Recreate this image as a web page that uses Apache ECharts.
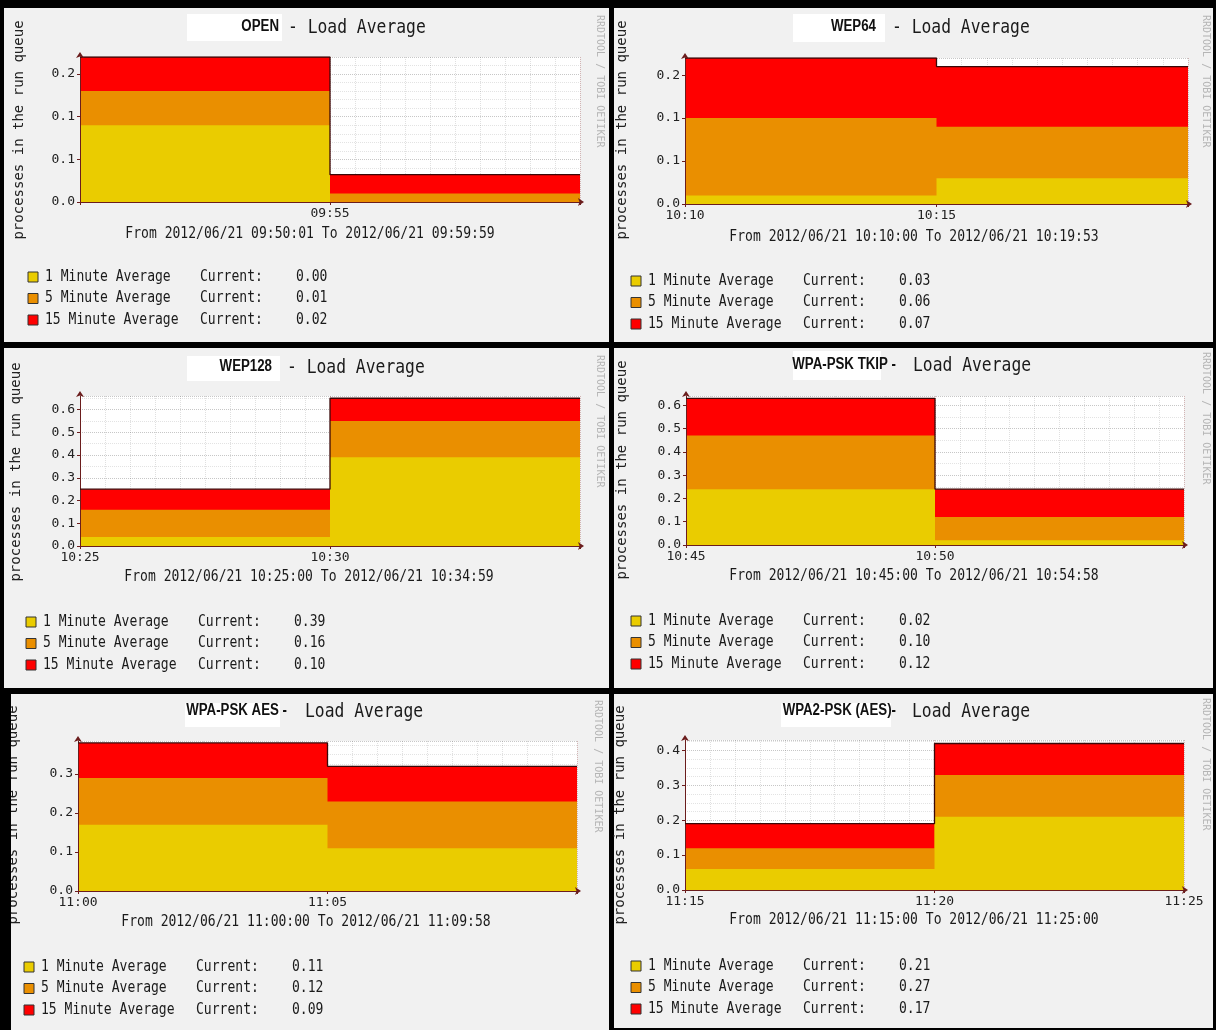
<!DOCTYPE html>
<html>
<head>
<meta charset="utf-8">
<title>Load Average</title>
<script src="https://cdn.jsdelivr.net/npm/echarts@6/dist/echarts.min.js"></script>
<style>
  html, body { margin: 0; padding: 0; background: #000; }
  #main { width: 1216px; height: 1030px; }
</style>
</head>
<body>
<div id="main"></div>
<script>
// sample positions, minutes from the start of each 10 minute window
const minutes = [0, 5, 10];
const seriesNames = ['1 Minute Average', '5 Minute Average', '15 Minute Average'];
const seriesColors = ['#EACC00', '#EA8F00', '#FF0000'];

// OPEN
const openOne = [0.09, 0.00, 0.00];
const openFive = [0.04, 0.01, 0.01];
const openFifteen = [0.04, 0.022, 0.022];
const openCurrent = ['0.00', '0.01', '0.02'];
const openTicks = ['', '09:55', ''];
const openRange = 'From 2012/06/21 09:50:01 To 2012/06/21 09:59:59';

// WEP64
const wep64One = [0.01, 0.03, 0.03];
const wep64Five = [0.09, 0.06, 0.06];
const wep64Fifteen = [0.07, 0.07, 0.07];
const wep64Current = ['0.03', '0.06', '0.07'];
const wep64Ticks = ['10:10', '10:15', ''];
const wep64Range = 'From 2012/06/21 10:10:00 To 2012/06/21 10:19:53';

// WEP128
const wep128One = [0.04, 0.39, 0.39];
const wep128Five = [0.12, 0.16, 0.16];
const wep128Fifteen = [0.09, 0.10, 0.10];
const wep128Current = ['0.39', '0.16', '0.10'];
const wep128Ticks = ['10:25', '10:30', ''];
const wep128Range = 'From 2012/06/21 10:25:00 To 2012/06/21 10:34:59';

// WPA-PSK TKIP
const tkipOne = [0.24, 0.02, 0.02];
const tkipFive = [0.23, 0.10, 0.10];
const tkipFifteen = [0.16, 0.12, 0.12];
const tkipCurrent = ['0.02', '0.10', '0.12'];
const tkipTicks = ['10:45', '10:50', ''];
const tkipRange = 'From 2012/06/21 10:45:00 To 2012/06/21 10:54:58';

// WPA-PSK AES
const aesOne = [0.17, 0.11, 0.11];
const aesFive = [0.12, 0.12, 0.12];
const aesFifteen = [0.09, 0.09, 0.09];
const aesCurrent = ['0.11', '0.12', '0.09'];
const aesTicks = ['11:00', '11:05', ''];
const aesRange = 'From 2012/06/21 11:00:00 To 2012/06/21 11:09:58';

// WPA2-PSK (AES)
const wpa2One = [0.06, 0.21, 0.21];
const wpa2Five = [0.06, 0.12, 0.12];
const wpa2Fifteen = [0.07, 0.09, 0.09];
const wpa2Current = ['0.21', '0.27', '0.17'];
const wpa2Ticks = ['11:15', '11:20', '11:25'];
const wpa2Range = 'From 2012/06/21 11:15:00 To 2012/06/21 11:25:00';

const panels = [
  { name: 'OPEN', rest: '- Load Average', one: openOne, five: openFive, fifteen: openFifteen, current: openCurrent, ticks: openTicks, range: openRange, max: 0.17, interval: 0.05, minor: 5 },
  { name: 'WEP64', rest: '- Load Average', one: wep64One, five: wep64Five, fifteen: wep64Fifteen, current: wep64Current, ticks: wep64Ticks, range: wep64Range, max: 0.17, interval: 0.05, minor: 5 },
  { name: 'WEP128', rest: '- Load Average', one: wep128One, five: wep128Five, fifteen: wep128Fifteen, current: wep128Current, ticks: wep128Ticks, range: wep128Range, max: 0.66, interval: 0.1, minor: 2 },
  { name: 'WPA-PSK TKIP -', rest: 'Load Average', one: tkipOne, five: tkipFive, fifteen: tkipFifteen, current: tkipCurrent, ticks: tkipTicks, range: tkipRange, max: 0.64, interval: 0.1, minor: 2 },
  { name: 'WPA-PSK AES -', rest: 'Load Average', one: aesOne, five: aesFive, fifteen: aesFifteen, current: aesCurrent, ticks: aesTicks, range: aesRange, max: 0.385, interval: 0.1, minor: 4 },
  { name: 'WPA2-PSK (AES)-', rest: 'Load Average', one: wpa2One, five: wpa2Five, fifteen: wpa2Fifteen, current: wpa2Current, ticks: wpa2Ticks, range: wpa2Range, max: 0.43, interval: 0.1, minor: 4 },
];

// page layout of each panel (pixels)
const layouts = [
  { box: [4, 8, 605, 334], plot: [80, 57, 580, 202], patch: [187, 14, 95, 27], titleY: 28, nameRight: 279, restLeft: 288, yName: [19, 130], from: [310, 234], legend: [28, 277], rrd: [600, 15] },
  { box: [614, 8, 599, 334], plot: [685, 58, 1188, 204], patch: [793, 14, 92, 28], titleY: 28, nameRight: 876, restLeft: 892, yName: [622, 130], from: [914, 237], legend: [631, 281], rrd: [1206, 15] },
  { box: [4, 348, 605, 340], plot: [80, 396, 580, 546], patch: [187, 356, 93, 25], titleY: 368, nameRight: 272, restLeft: 287, yName: [16, 472], from: [309, 577], legend: [26, 622], rrd: [600, 355] },
  { box: [614, 348, 599, 340], plot: [686, 396, 1184, 545], patch: [793, 351, 88, 29], titleY: 366, nameRight: 896, restLeft: 913, yName: [622, 470], from: [914, 576], legend: [631, 621], rrd: [1206, 352] },
  { box: [4, 694, 605, 336], plot: [78, 741, 577, 891], patch: [185, 703, 95, 24], titleY: 712, nameRight: 287, restLeft: 305, yName: [13, 815], from: [306, 922], legend: [24, 967], rrd: [598, 700], cover: 11 },
  { box: [614, 694, 599, 334], plot: [685, 740, 1184, 890], patch: [781, 703, 110, 24], titleY: 712, nameRight: 896, restLeft: 912, yName: [620, 815], from: [914, 920], legend: [631, 966], rrd: [1206, 698] },
];

const MONO = "'DejaVu Sans Mono', 'Liberation Mono', monospace";
const BOLD = "'Liberation Sans', sans-serif";
const AXIS_COLOR = '#6b1d1d';

const chart = echarts.init(document.getElementById('main'));
const option = { animation: false, grid: [], xAxis: [], yAxis: [], series: [], graphic: [] };

function monoText(x, y, text, size, sx, align) {
  return {
    type: 'text', z: 5, x, y, scaleX: sx,
    style: { text, fill: '#1a1a1a', font: size + 'px ' + MONO, textAlign: align || 'left', textVerticalAlign: 'middle' },
  };
}

panels.forEach((p, i) => {
  const l = layouts[i];
  const [left, top, right, zero] = l.plot;

  option.grid.push({
    left, top, width: right - left, height: zero - top,
    show: true, backgroundColor: '#fff', borderWidth: 0,
  });

  option.xAxis.push({
    type: 'value', gridIndex: i, min: 0, max: 10, interval: 5, z: 3,
    axisLine: { lineStyle: { color: AXIS_COLOR }, symbol: ['none', 'arrow'], symbolSize: [6, 6], symbolOffset: [0, 4] },
    axisTick: { show: true, length: 3, lineStyle: { color: AXIS_COLOR } },
    axisLabel: {
      margin: 5, color: '#222', fontFamily: MONO, fontSize: 13,
      formatter: (v) => p.ticks[Math.round(v / 5)] || '',
    },
    splitLine: { show: true, lineStyle: { color: 'rgba(120,0,0,0.25)', type: 'dotted' } },
    minorTick: { show: false, splitNumber: 10 },
    minorSplitLine: { show: true, lineStyle: { color: 'rgba(0,0,0,0.12)', type: 'dotted' } },
  });

  option.yAxis.push({
    type: 'value', gridIndex: i, min: 0, max: p.max, interval: p.interval, z: 3,
    axisLine: { show: true, lineStyle: { color: AXIS_COLOR }, symbol: ['none', 'arrow'], symbolSize: [6, 6], symbolOffset: [0, 5] },
    axisTick: { show: true, length: 3, lineStyle: { color: AXIS_COLOR } },
    axisLabel: {
      margin: 5, color: '#222', fontFamily: MONO, fontSize: 13, showMaxLabel: false,
      formatter: (v) => (Math.round(v * 10) / 10).toFixed(1),
    },
    splitLine: { show: true, lineStyle: { color: 'rgba(0,0,0,0.22)', type: 'dotted' } },
    minorTick: { show: false, splitNumber: p.minor },
    minorSplitLine: { show: true, lineStyle: { color: 'rgba(0,0,0,0.11)', type: 'dotted' } },
  });

  // stacked the RRDtool way: running totals, drawn from the top layer down
  const layers = [p.one, p.five, p.fifteen];
  const totals = layers.map((_, k) =>
    minutes.map((m, j) => [m, layers.slice(0, k + 1).reduce((s, arr) => s + arr[j], 0)]));
  [2, 1, 0].forEach((k) => {
    option.series.push({
      name: seriesNames[k], type: 'line', xAxisIndex: i, yAxisIndex: i,
      step: 'end', symbol: 'none', data: totals[k],
      lineStyle: k === 2 ? { color: '#3a0808', width: 1.3 } : { width: 0, opacity: 0 },
      areaStyle: { color: seriesColors[k], opacity: 1, origin: 'start' },
    });
  });

  const g = option.graphic;
  const [bx, by, bw, bh] = l.box;
  g.push({ type: 'rect', z: -5, shape: { x: bx, y: by, width: bw, height: bh }, style: { fill: '#f1f1f1' } });
  const [px, py, pw, ph] = l.patch;
  g.push({ type: 'rect', z: -4, shape: { x: px, y: py, width: pw, height: ph }, style: { fill: '#fff' } });

  // title
  g.push({ type: 'text', z: 5, x: l.nameRight, y: l.titleY - 1, scaleX: 0.83,
    style: { text: p.name, fill: '#111', font: 'bold 16px ' + BOLD, textAlign: 'right', textVerticalAlign: 'middle' } });
  g.push(monoText(l.restLeft, l.titleY, p.rest, 19, 0.86));

  // vertical labels
  g.push({ type: 'text', z: 5, x: l.yName[0], y: l.yName[1], rotation: Math.PI / 2,
    style: { text: 'processes in the run queue', fill: '#222', font: '14px ' + MONO, textAlign: 'center', textVerticalAlign: 'middle' } });
  g.push({ type: 'text', z: 5, x: l.rrd[0], y: l.rrd[1], rotation: -Math.PI / 2,
    style: { text: 'RRDTOOL / TOBI OETIKER', fill: '#b5b5b5', font: '10px ' + MONO, textAlign: 'left', textVerticalAlign: 'middle' } });

  // time range, centred: scale about the centre
  g.push(monoText(l.from[0], l.from[1], p.range, 15, 0.87, 'center'));

  // legend with current values
  const [lx, ly] = l.legend;
  seriesNames.forEach((nm, k) => {
    const rowY = ly + k * 21.5;
    g.push({ type: 'rect', z: 5, shape: { x: lx, y: rowY - 5, width: 10, height: 10 },
      style: { fill: seriesColors[k], stroke: '#333', lineWidth: 1 } });
    g.push(monoText(lx + 17, rowY, nm, 15, 0.87));
    g.push(monoText(lx + 172, rowY, 'Current:', 15, 0.87));
    g.push(monoText(lx + 268, rowY, p.current[k], 15, 0.87));
  });

  if (l.cover) {
    g.push({ type: 'rect', z: 20, shape: { x: 0, y: by, width: l.cover, height: bh }, style: { fill: '#000' } });
  }
});

chart.setOption(option);
</script>
</body>
</html>
